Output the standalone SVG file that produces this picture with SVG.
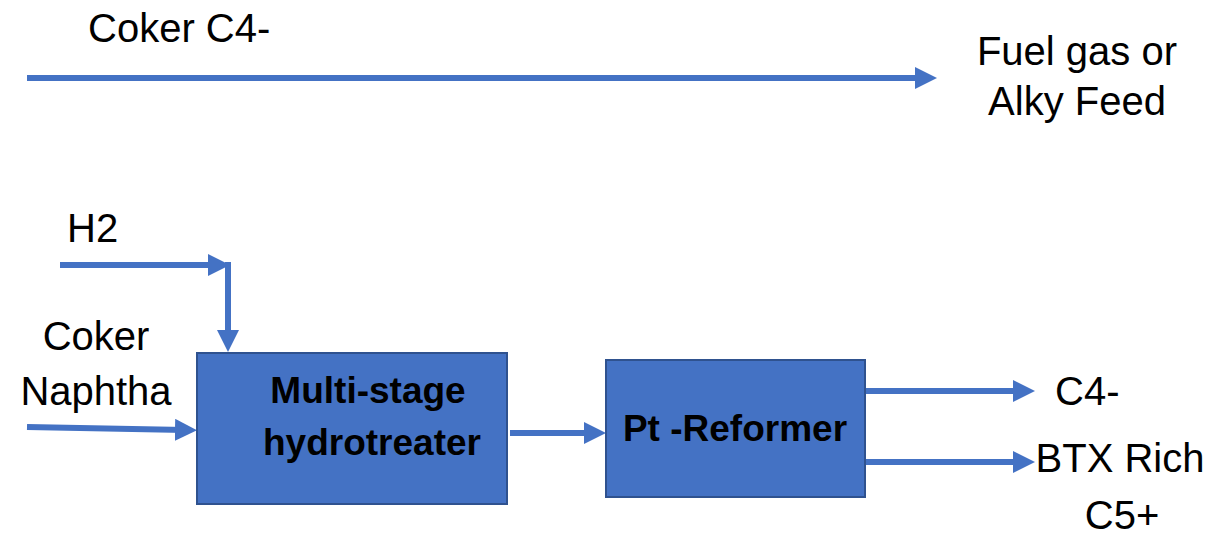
<svg xmlns="http://www.w3.org/2000/svg" width="1207" height="537" viewBox="0 0 1207 537">
<style>
.lbl{font-family:"Liberation Sans",Arial,sans-serif;font-size:40px;fill:#000}
.blbl{font-family:"Liberation Sans",Arial,sans-serif;font-size:37px;font-weight:bold;fill:#000}
.box{fill:#4472C4;stroke:#2F528F;stroke-width:2}
.conn{stroke:#4472C4;stroke-width:6;fill:none;marker-end:url(#ah)}
</style>
<defs>
<marker id="ah" markerUnits="userSpaceOnUse" markerWidth="22" markerHeight="22" refX="10" refY="11" orient="auto">
<path d="M0,0 L22,11 L0,22 Z" fill="#4472C4"/>
</marker>
</defs>
<rect width="1207" height="537" fill="#fff"/>
<g id="connectors">
<line class="conn" x1="27" y1="78" x2="925" y2="78"/>
<line class="conn" x1="60" y1="265" x2="218" y2="265"/>
<line class="conn" x1="228" y1="262" x2="228" y2="340"/>
<line class="conn" x1="27" y1="427" x2="185" y2="430"/>
<line class="conn" x1="510" y1="433" x2="594" y2="433"/>
<line class="conn" x1="865" y1="391" x2="1023" y2="391"/>
<line class="conn" x1="865" y1="462" x2="1023" y2="462"/>
</g>
<g id="hydrotreater">
<rect class="box" x="197" y="353" width="310" height="151"/>
<text class="blbl" x="368" y="403" text-anchor="middle">Multi-stage</text>
<text class="blbl" x="372" y="455" text-anchor="middle">hydrotreater</text>
</g>
<g id="reformer">
<rect class="box" x="606" y="360" width="259" height="137"/>
<text class="blbl" x="735" y="441" text-anchor="middle">Pt -Reformer</text>
</g>
<g id="label-coker-c4">
<text class="lbl" x="88" y="42">Coker C4-</text>
</g>
<g id="label-fuel-gas">
<text class="lbl" x="1077" y="65" text-anchor="middle">Fuel gas or</text>
<text class="lbl" x="1077" y="115" text-anchor="middle">Alky Feed</text>
</g>
<g id="label-h2">
<text class="lbl" x="67" y="242">H2</text>
</g>
<g id="label-coker-naphtha">
<text class="lbl" x="96" y="350" text-anchor="middle">Coker</text>
<text class="lbl" x="96" y="405" text-anchor="middle">Naphtha</text>
</g>
<g id="label-c4">
<text class="lbl" x="1055" y="405">C4-</text>
</g>
<g id="label-btx">
<text class="lbl" x="1120" y="472" text-anchor="middle">BTX Rich</text>
<text class="lbl" x="1122" y="529" text-anchor="middle">C5+</text>
</g>
</svg>
